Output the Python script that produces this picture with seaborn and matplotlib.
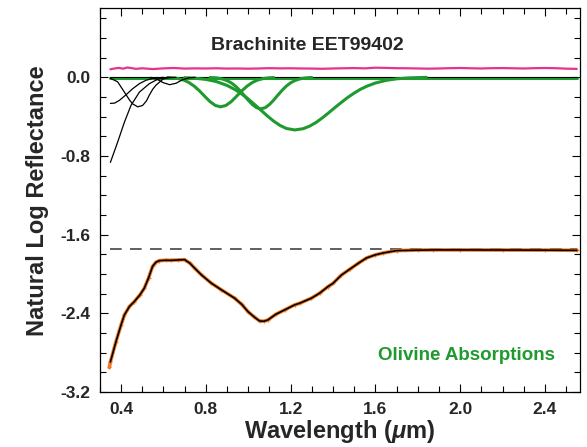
import numpy as np
import seaborn as sns
import matplotlib.pyplot as plt
from matplotlib.ticker import MultipleLocator, FormatStrFormatter

# measured spectrum (orange) and MGM fit (black)
wl_spec = [0.345, 0.350, 0.376, 0.400, 0.416, 0.440, 0.463, 0.490, 0.510, 0.530,
           0.549, 0.565, 0.581, 0.610, 0.636, 0.670, 0.700, 0.725, 0.747, 0.780,
           0.826, 0.873, 0.936, 0.970, 0.999, 1.030, 1.054, 1.075, 1.093, 1.130,
           1.172, 1.219, 1.243, 1.298, 1.337, 1.377, 1.400, 1.440, 1.480, 1.520,
           1.558, 1.600, 1.637, 1.700, 1.800, 1.873, 2.000, 2.200, 2.400, 2.550]
ln_spec = [-2.95, -2.894, -2.69, -2.52, -2.416, -2.33, -2.28, -2.21, -2.144, -2.04,
           -1.922, -1.88, -1.864, -1.860, -1.861, -1.857, -1.854, -1.89, -1.94, -2.01,
           -2.093, -2.16, -2.246, -2.31, -2.382, -2.44, -2.478, -2.48, -2.467, -2.41,
           -2.365, -2.314, -2.297, -2.246, -2.195, -2.127, -2.095, -2.01, -1.95, -1.89,
           -1.837, -1.805, -1.786, -1.762, -1.757, -1.755, -1.755, -1.756, -1.757, -1.759]

continuum_level = -1.75
wl_range = [0.35, 2.55]

# residual (offset, pink)
wl_resid = [0.35, 0.37, 0.39, 0.41, 0.43, 0.45, 0.47, 0.50, 0.55, 0.60, 0.65, 0.70,
            0.75, 0.80, 0.85, 0.90, 0.95, 1.00, 1.05, 1.10, 1.15, 1.20, 1.25, 1.30,
            1.35, 1.40, 1.45, 1.50, 1.55, 1.60, 1.65, 1.70, 1.75, 1.80, 1.85, 1.90,
            1.95, 2.00, 2.05, 2.10, 2.15, 2.20, 2.25, 2.30, 2.35, 2.40, 2.45, 2.50, 2.55]
resid = [0.082, 0.090, 0.096, 0.088, 0.100, 0.094, 0.086, 0.092, 0.084, 0.091, 0.095, 0.089,
         0.091, 0.090, 0.092, 0.089, 0.090, 0.088, 0.090, 0.093, 0.091, 0.092, 0.090, 0.089,
         0.087, 0.090, 0.092, 0.094, 0.091, 0.098, 0.096, 0.093, 0.092, 0.090, 0.088, 0.090,
         0.093, 0.095, 0.092, 0.090, 0.093, 0.094, 0.092, 0.090, 0.093, 0.095, 0.093, 0.088, 0.086]

# UV / visible bands (black)
wl_b1 = [0.350, 0.384, 0.416, 0.447, 0.487, 0.534, 0.573, 0.600, 0.630]
b1 = [-0.865, -0.66, -0.457, -0.286, -0.15, -0.064, -0.02, -0.005, 0.0]
wl_b2 = [0.350, 0.384, 0.416, 0.440, 0.455, 0.479, 0.502, 0.520, 0.534, 0.550,
         0.565, 0.600, 0.630, 0.660]
b2 = [-0.01, -0.045, -0.15, -0.23, -0.27, -0.30, -0.286, -0.24, -0.18, -0.12,
      -0.08, -0.015, -0.003, 0.0]
wl_b3 = [0.350, 0.370, 0.392, 0.424, 0.455, 0.487, 0.518, 0.550, 0.600]
b3 = [-0.265, -0.262, -0.235, -0.177, -0.116, -0.064, -0.03, -0.01, 0.0]
wl_b4 = [0.540, 0.570, 0.600, 0.630, 0.660, 0.690, 0.720, 0.750]
b4 = [0.0, -0.02, -0.055, -0.075, -0.06, -0.025, -0.005, 0.0]

# olivine bands (green)
wl_g1 = [0.620, 0.645, 0.670, 0.695, 0.720, 0.745, 0.770, 0.795, 0.820, 0.845, 0.870,
         0.895, 0.920, 0.945, 0.970, 0.995, 1.020, 1.045, 1.070, 1.095, 1.120]
g1 = [-0.002, -0.006, -0.013, -0.027, -0.052, -0.089, -0.137, -0.193, -0.247, -0.286, -0.30,
      -0.286, -0.247, -0.193, -0.137, -0.089, -0.052, -0.027, -0.013, -0.006, -0.002]
wl_g2 = [0.82, 0.84, 0.86, 0.88, 0.90, 0.92, 0.94, 0.96, 0.98, 1.00, 1.02, 1.04, 1.06,
         1.08, 1.10, 1.12, 1.14, 1.16, 1.18, 1.20, 1.22, 1.24, 1.26, 1.28, 1.30]
g2 = [-0.002, -0.004, -0.009, -0.018, -0.033, -0.056, -0.089, -0.132, -0.181, -0.232,
      -0.277, -0.309, -0.32, -0.309, -0.277, -0.232, -0.181, -0.132, -0.089, -0.056,
      -0.033, -0.018, -0.009, -0.004, -0.002]
wl_g3 = [0.70, 0.75, 0.80, 0.85, 0.90, 0.94, 0.97, 1.00, 1.03, 1.06, 1.09, 1.12, 1.15,
         1.18, 1.22, 1.26, 1.29, 1.32, 1.35, 1.38, 1.41, 1.44, 1.47, 1.50, 1.53, 1.56,
         1.60, 1.65, 1.70, 1.76, 1.84]
g3 = [-0.004, -0.009, -0.021, -0.043, -0.082, -0.127, -0.170, -0.22, -0.276, -0.334,
      -0.392, -0.445, -0.489, -0.52, -0.535, -0.522, -0.496, -0.459, -0.412, -0.36,
      -0.306, -0.254, -0.204, -0.16, -0.121, -0.09, -0.058, -0.031, -0.015, -0.006, 0.0]

GREEN = '#1f9a2e'
PINK = '#e5348c'
ORANGE = '#f07a22'

sns.set_theme(style='ticks')
plt.rcParams['font.family'] = ['Liberation Sans', 'DejaVu Sans']
plt.rcParams['font.weight'] = 'bold'
plt.rcParams['mathtext.fontset'] = 'custom'
plt.rcParams['mathtext.it'] = 'Liberation Sans:italic:bold'

fig = plt.figure(figsize=(5.87, 4.47), dpi=100)
ax = fig.add_axes([0.170, 0.123, 0.818, 0.858])

ax.plot(wl_range, [continuum_level] * 2, color='#444444', lw=1.2, dashes=(7, 5), zorder=1)
sns.lineplot(x=wl_range, y=[-0.006, -0.006], color=GREEN, lw=2.2, ax=ax, zorder=2)
sns.lineplot(x=wl_range, y=[0.0, 0.0], color='black', lw=0.8, ax=ax, zorder=3)
for wl, band in [(wl_g1, g1), (wl_g2, g2), (wl_g3, g3)]:
    sns.lineplot(x=wl, y=band, color=GREEN, lw=2.2, ax=ax, sort=False, zorder=4)
for wl, band in [(wl_b1, b1), (wl_b2, b2), (wl_b3, b3), (wl_b4, b4)]:
    sns.lineplot(x=wl, y=band, color='black', lw=0.9, ax=ax, sort=False, zorder=4)
sns.lineplot(x=wl_resid, y=resid, color=PINK, lw=1.6, ax=ax, zorder=4)

sns.lineplot(x=wl_spec, y=ln_spec, color=ORANGE, lw=2.6, ax=ax, zorder=5)
ax.scatter(wl_spec, ln_spec, color=ORANGE, marker='+', s=12, lw=0.9, zorder=5)
sns.lineplot(x=wl_spec[1:], y=ln_spec[1:], color='black', lw=1.2, ax=ax, zorder=6)

ax.set_xlim(0.3, 2.565)
ax.set_ylim(-3.2, 0.7)
ax.xaxis.set_major_locator(MultipleLocator(0.4))
ax.xaxis.set_minor_locator(MultipleLocator(0.1))
ax.yaxis.set_major_locator(MultipleLocator(0.8))
ax.yaxis.set_minor_locator(MultipleLocator(0.2))
ax.xaxis.set_major_formatter(FormatStrFormatter('%.1f'))
ax.yaxis.set_major_formatter(FormatStrFormatter('%.1f'))
ax.tick_params(which='both', direction='in', top=True, right=True, width=0.8, color='black')
ax.tick_params(which='major', length=6, labelsize=12.5, pad=7)
ax.tick_params(which='minor', length=4)
for lbl in ax.get_xticklabels() + ax.get_yticklabels():
    lbl.set_fontweight('bold')
for sp in ax.spines.values():
    sp.set_linewidth(0.9)
    sp.set_color('black')

ax.set_xlabel(r'Wavelength ($\mu$m)', fontsize=17, fontweight='bold', labelpad=1)
ax.set_ylabel('Natural Log Reflectance', fontsize=17, fontweight='bold', labelpad=8)
ax.text(1.28, 0.32, 'Brachinite EET99402', ha='center', va='center',
        fontsize=14, fontweight='bold')
ax.text(2.03, -2.83, 'Olivine Absorptions', ha='center', va='center',
        fontsize=13.5, fontweight='bold', color=GREEN)

plt.savefig('out.png', dpi=100)
plt.close()
